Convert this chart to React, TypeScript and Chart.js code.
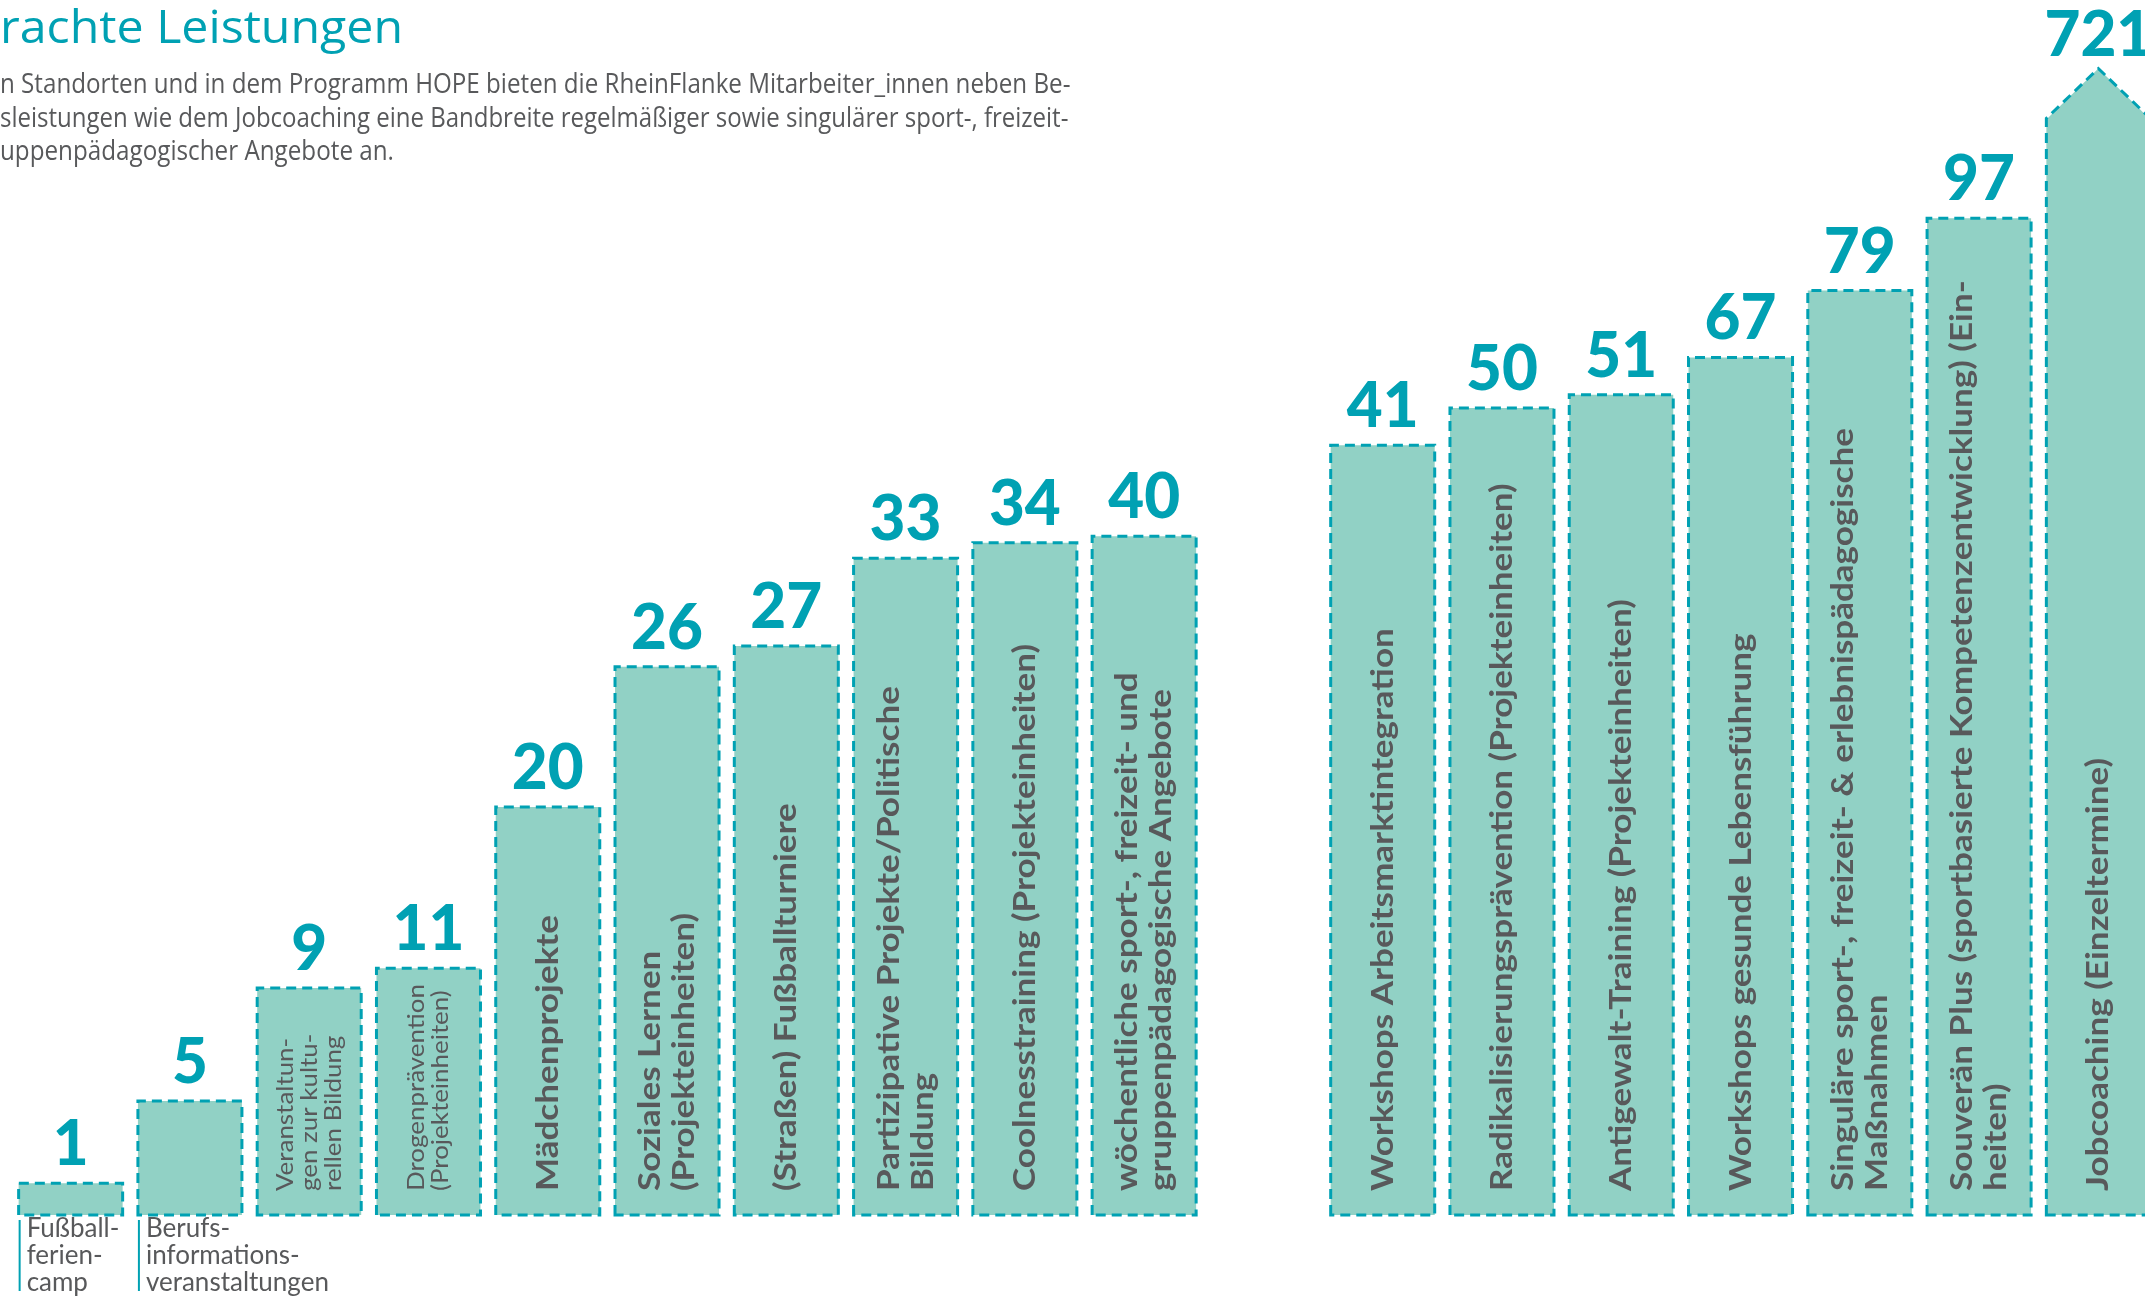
import React, { useEffect, useLayoutEffect, useRef } from "react";
import { Chart, registerables } from "chart.js";

Chart.register(...registerables);

// ---- data ----
const categories = [
  "Fußballferiencamp",
  "Berufsinformationsveranstaltungen",
  "Veranstaltungen zur kulturellen Bildung",
  "Drogenprävention (Projekteinheiten)",
  "Mädchenprojekte",
  "Soziales Lernen (Projekteinheiten)",
  "(Straßen) Fußballturniere",
  "Partizipative Projekte/Politische Bildung",
  "Coolnesstraining (Projekteinheiten)",
  "wöchentliche sport-, freizeit- und gruppenpädagogische Angebote",
  "",
  "Workshops Arbeitsmarktintegration",
  "Radikalisierungsprävention (Projekteinheiten)",
  "Antigewalt-Training (Projekteinheiten)",
  "Workshops gesunde Lebensführung",
  "Singuläre sport-, freizeit- & erlebnispädagogische Maßnahmen",
  "Souverän Plus (sportbasierte Kompetenzentwicklung) (Einheiten)",
  "Jobcoaching (Einzeltermine)",
];

// printed numbers
const values: (number | null)[] = [1, 5, 9, 11, 20, 26, 27, 33, 34, 40, null, 41, 50, 51, 67, 79, 97, 721];

// illustrated bar level (the graphic is not to scale), 0..100
const barLevels: (number | null)[] = [2.9, 10.4, 20.7, 22.5, 37.2, 50.0, 51.9, 59.9, 61.3, 61.9, null, 70.2, 73.6, 74.8, 78.2, 84.3, 90.9, 100];

// text written inside the bars (rotated), line by line
const innerLabels: string[][] = [
  [],
  [],
  ["Veranstaltun-", "gen zur kultu-", "rellen Bildung"],
  ["Drogenprävention", "(Projekteinheiten)"],
  ["Mädchenprojekte"],
  ["Soziales Lernen", "(Projekteinheiten)"],
  ["(Straßen) Fußballturniere"],
  ["Partizipative Projekte/Politische", "Bildung"],
  ["Coolnesstraining (Projekteinheiten)"],
  ["wöchentliche sport-, freizeit- und", "gruppenpädagogische Angebote"],
  [],
  ["Workshops Arbeitsmarktintegration"],
  ["Radikalisierungsprävention (Projekteinheiten)"],
  ["Antigewalt-Training (Projekteinheiten)"],
  ["Workshops gesunde Lebensführung"],
  ["Singuläre sport-, freizeit- & erlebnispädagogische", "Maßnahmen"],
  ["Souverän Plus (sportbasierte Kompetenzentwicklung) (Ein-", "heiten)"],
  ["Jobcoaching (Einzeltermine)"],
];
const smallLabelIdx = [2, 3];

// text written below the bars
const belowLabels: string[][] = [
  ["Fußball-", "ferien-", "camp"],
  ["Berufs-", "informations-", "veranstaltungen"],
];

const arrowIndex = 17;

const titleText = "rachte Leistungen";
const introLines = [
  "n Standorten und in dem Programm HOPE bieten die RheinFlanke Mitarbeiter_innen neben Be-",
  "sleistungen wie dem Jobcoaching eine Bandbreite regelmäßiger sowie singulärer sport-, freizeit-",
  "uppenpädagogischer Angebote an.",
];

// ---- style ----
const FILL = "#91d1c5";
const TEAL = "#00a1b3";
const GREY = "#58595b";

const infographicPlugin = {
  id: "infographic",
  afterDatasetsDraw(chart: any) {
    const ctx: CanvasRenderingContext2D = chart.ctx;
    const meta = chart.getDatasetMeta(0);
    meta.data.forEach((bar: any, i: number) => {
      if (values[i] == null) return;
      const { x, y, base, width } = bar.getProps(["x", "y", "base", "width"], true);
      const left = x - width / 2;
      const right = x + width / 2;
      const isArrow = i === arrowIndex;
      const apexY = y - width * 0.48;

      ctx.save();
      if (isArrow) {
        ctx.fillStyle = FILL;
        ctx.beginPath();
        ctx.moveTo(left, y + 1);
        ctx.lineTo(x, apexY);
        ctx.lineTo(right, y + 1);
        ctx.closePath();
        ctx.fill();
      }
      // dashed outline
      ctx.setLineDash([10, 6]);
      ctx.lineWidth = 3;
      ctx.strokeStyle = TEAL;
      ctx.beginPath();
      ctx.moveTo(left, base);
      ctx.lineTo(left, y);
      if (isArrow) ctx.lineTo(x, apexY);
      ctx.lineTo(right, y);
      ctx.lineTo(right, base);
      ctx.closePath();
      ctx.stroke();
      ctx.setLineDash([]);

      // printed value
      ctx.fillStyle = TEAL;
      ctx.font = "900 62px Lato";
      ctx.textAlign = "center";
      ctx.textBaseline = "alphabetic";
      ctx.fillText(String(values[i]), x, isArrow ? apexY - 13 : y - 18);

      // rotated label inside the bar
      const lines = innerLabels[i];
      if (lines.length) {
        const small = smallLabelIdx.includes(i);
        const lh = small ? 24 : 34;
        ctx.fillStyle = GREY;
        ctx.font = small ? "24px Lato" : "bold 31px Lato";
        ctx.textAlign = "left";
        ctx.textBaseline = "middle";
        ctx.save();
        ctx.translate(x, base - 24);
        ctx.rotate(-Math.PI / 2);
        ctx.scale(small ? 1.08 : 1.13, 1);
        lines.forEach((ln, j) => {
          ctx.fillText(ln, 0, (j - (lines.length - 1) / 2) * lh);
        });
        ctx.restore();
      }

      // label below the bar
      if (i < belowLabels.length) {
        ctx.strokeStyle = TEAL;
        ctx.lineWidth = 2;
        ctx.beginPath();
        ctx.moveTo(left + 1, base + 5);
        ctx.lineTo(left + 1, base + 76);
        ctx.stroke();
        ctx.fillStyle = GREY;
        ctx.font = "26px Lato";
        ctx.textAlign = "left";
        ctx.textBaseline = "alphabetic";
        belowLabels[i].forEach((ln, j) => {
          ctx.fillText(ln, left + 8, base + 22 + j * 27);
        });
      }
      ctx.restore();
    });
  },
};

function FitLine({ text, width, style }: { text: string; width: number; style: React.CSSProperties }) {
  const ref = useRef<HTMLDivElement>(null);
  useLayoutEffect(() => {
    const el = ref.current;
    if (!el) return;
    const w = el.offsetWidth;
    if (w > 0) el.style.transform = `scaleX(${width / w})`;
  }, [text, width]);
  return (
    <div
      ref={ref}
      style={{
        position: "absolute",
        whiteSpace: "nowrap",
        transformOrigin: "0 0",
        display: "inline-block",
        ...style,
      }}
    >
      {text}
    </div>
  );
}

export default function App() {
  const canvasRef = useRef<HTMLCanvasElement>(null);

  useEffect(() => {
    document.body.style.margin = "0";
    const canvas = canvasRef.current;
    if (!canvas) return;
    const chart = new Chart(canvas, {
      type: "bar",
      data: {
        labels: categories,
        datasets: [
          {
            data: barLevels as any,
            backgroundColor: FILL,
            borderWidth: 0,
            categoryPercentage: 1,
            barPercentage: 0.872,
          },
        ],
      },
      options: {
        responsive: false,
        animation: false,
        devicePixelRatio: 1,
        layout: { padding: { left: 11, right: 2, top: 0, bottom: 81 } },
        scales: {
          x: { display: false },
          y: { display: false, min: 0, max: 110.8 },
        },
        plugins: {
          legend: { display: false },
          tooltip: { enabled: false },
        },
      },
      plugins: [infographicPlugin],
    });
    return () => chart.destroy();
  }, []);

  const introFont = "'Open Sans', sans-serif";
  return (
    <div
      style={{
        position: "fixed",
        left: 0,
        top: 0,
        width: 2145,
        height: 1296,
        overflow: "hidden",
        background: "#ffffff",
      }}
    >
      <canvas
        ref={canvasRef}
        width={2160}
        height={1296}
        style={{ position: "absolute", left: 0, top: 0, width: 2160, height: 1296, display: "block" }}
      />
      <FitLine
        text={titleText}
        width={403}
        style={{ left: 0, top: -6, fontFamily: introFont, fontWeight: 400, fontSize: 46, lineHeight: "62px", color: TEAL }}
      />
      {introLines.map((ln, k) => (
        <FitLine
          key={k}
          text={ln}
          width={[1070, 1068, 394][k]}
          style={{
            left: 0,
            top: 65 + k * 33.5,
            fontFamily: introFont,
            fontSize: 27,
            lineHeight: "36px",
            color: GREY,
          }}
        />
      ))}
    </div>
  );
}
